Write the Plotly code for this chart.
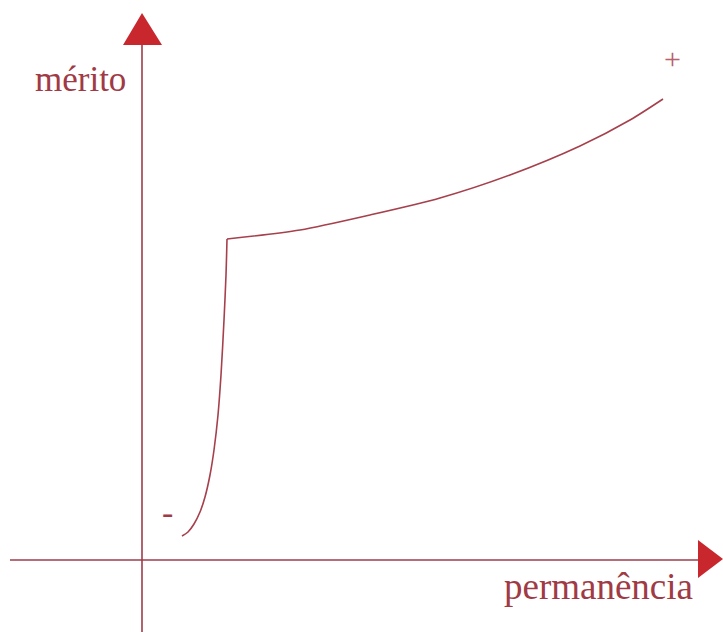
import plotly.graph_objects as go

# Curve data (x = permanência, y = mérito), origin at axis crossing
steep_x = [40, 46, 52, 58, 63, 68, 72, 76, 79, 82, 84, 85]
steep_y = [24, 28, 36, 48, 63, 85, 110, 145, 185, 240, 285, 321]
upper_x = [85, 158, 228, 298, 368, 438, 488, 521]
upper_y = [321, 330, 345, 362, 385, 414, 440, 461]

x_label = "permanência"
y_label = "mérito"
plus_label = "+"
minus_label = "-"

X_RANGE = [-142, 581]
Y_RANGE = [-72, 560]

CURVE = "#a5404c"
AXIS = "#9c3d4a"
ARROW = "#c8272d"
TEXT = "#a03a45"
FONT = "Liberation Serif, Times New Roman, serif"

fig = go.Figure()
fig.add_trace(go.Scatter(x=steep_x, y=steep_y, mode="lines",
                         line=dict(color=CURVE, width=1.6, shape="spline", smoothing=0.8),
                         hoverinfo="skip", showlegend=False))
fig.add_trace(go.Scatter(x=upper_x, y=upper_y, mode="lines",
                         line=dict(color=CURVE, width=1.6, shape="spline", smoothing=0.8),
                         hoverinfo="skip", showlegend=False))

# axes lines
fig.add_shape(type="line", x0=-132, y0=0, x1=556, y1=0, line=dict(color=AXIS, width=1.6))
fig.add_shape(type="line", x0=0, y0=-72, x1=0, y1=515, line=dict(color=AXIS, width=1.6))
# arrowheads
fig.add_shape(type="path", path="M -19,515 L 20,515 L 0,547 Z",
              fillcolor=ARROW, line=dict(color=ARROW, width=0))
fig.add_shape(type="path", path="M 556,20 L 556,-18 L 581,1 Z",
              fillcolor=ARROW, line=dict(color=ARROW, width=0))

fig.add_annotation(x=-62, y=481, text=y_label, showarrow=False,
                   font=dict(family=FONT, size=35, color=TEXT), xanchor="center", yanchor="middle")
fig.add_annotation(x=456, y=-26, text=x_label, showarrow=False,
                   font=dict(family=FONT, size=37, color=TEXT), xanchor="center", yanchor="middle")
fig.add_annotation(x=530, y=502, text=plus_label, showarrow=False,
                   font=dict(family=FONT, size=30, color="#b8606c"), xanchor="center", yanchor="middle")
fig.add_annotation(x=25, y=48, text=minus_label, showarrow=False,
                   font=dict(family=FONT, size=34, color=TEXT), xanchor="center", yanchor="middle")

fig.update_xaxes(range=X_RANGE, visible=False, fixedrange=True)
fig.update_yaxes(range=Y_RANGE, visible=False, fixedrange=True)
fig.update_layout(width=723, height=632, margin=dict(l=0, r=0, t=0, b=0),
                  plot_bgcolor="white", paper_bgcolor="white", hovermode=False)

fig.write_html("out.html", config={"displayModeBar": False, "staticPlot": True},
               post_script="document.body.style.margin='0';document.body.style.overflow='hidden';")
